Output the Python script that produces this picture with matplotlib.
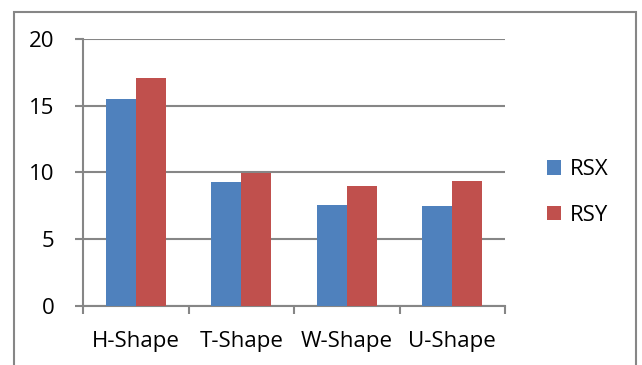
import numpy as np
import matplotlib
matplotlib.use("Agg")
import matplotlib.pyplot as plt
from matplotlib.patches import Rectangle
from matplotlib.ticker import FixedLocator

# shear stiffness ratios per column shape
shapes = ["H-Shape", "T-Shape", "W-Shape", "U-Shape"]
rsx = [15.55, 9.3, 7.55, 7.45]
rsy = [17.1, 9.95, 8.95, 9.35]
y_ticks = [0, 5, 10, 15, 20]

blue = "#4F81BD"
red = "#C0504D"
grey = "#868686"

plt.rcParams["font.family"] = ["Open Sans", "DejaVu Sans"]
plt.rcParams["font.size"] = 16
plt.rcParams["text.color"] = "black"

fig = plt.figure(figsize=(6.42, 3.65), dpi=100)
ax = fig.add_axes([0.1298, 0.1625, 0.7866 - 0.1298, 0.8923 - 0.1625])

x = np.arange(len(shapes))
w = 0.285
ax.bar(x - w / 2, rsx, w, color=blue, label="RSX", zorder=3)
ax.bar(x + w / 2, rsy, w, color=red, label="RSY", zorder=3)

ax.set_xlim(-0.5, len(shapes) - 0.5)
ax.set_ylim(0, 20)
ax.set_yticks(y_ticks)
ax.yaxis.grid(True, color=grey, linewidth=1.5, zorder=1)

ax.set_xticks(x)
ax.set_xticklabels(shapes)
ax.xaxis.set_minor_locator(FixedLocator(np.arange(-0.5, len(shapes), 1.0)))
ax.tick_params(axis="x", which="major", length=0, pad=18)
ax.tick_params(axis="x", which="minor", length=5.5, width=1.5, color=grey)
ax.tick_params(axis="y", length=5.8, width=1.5, color=grey, pad=15)

for side in ["top", "right"]:
    ax.spines[side].set_visible(False)
for side in ["left", "bottom"]:
    ax.spines[side].set_color(grey)
    ax.spines[side].set_linewidth(1.5)

ax.legend(loc="center left", bbox_to_anchor=(547.3 / 642, 1 - 192.5 / 365),
          bbox_transform=fig.transFigure, frameon=False, borderpad=0,
          borderaxespad=0, handlelength=0.63, handleheight=0.63,
          handletextpad=0.38, labelspacing=1.1)

# outer chart frame
fig.patches.append(Rectangle((14 / 642, -0.1), (636 - 14) / 642, 1.1 - 12 / 365,
                             transform=fig.transFigure, fill=False,
                             edgecolor=grey, linewidth=1.5))

fig.savefig("out.png", dpi=100)
